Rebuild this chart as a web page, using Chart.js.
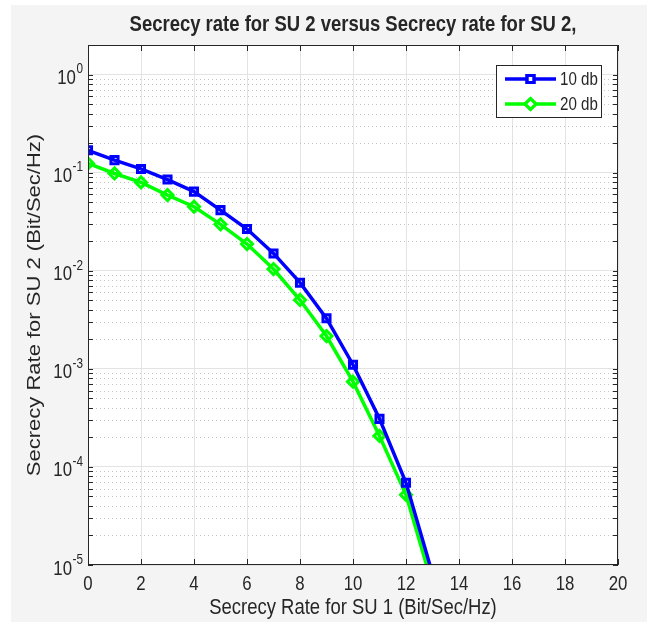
<!DOCTYPE html>
<html>
<head>
<meta charset="utf-8">
<script src="https://cdn.jsdelivr.net/npm/chart.js@4"></script>
<style>
  body { margin: 0; background: #fff; }
  #fig { position: absolute; left: 11px; top: 5px; width: 636px; height: 617px; background: #f4f4f4; }
</style>
</head>
<body>
<div id="fig"><canvas id="chart" width="636" height="617"></canvas></div>
<script>
// secrecy rate of SU 1 (x) and SU 2 (y) for two SNR settings
const rateSU1 = [0, 1, 2, 3, 4, 5, 6, 7, 8, 9, 10, 11, 12, 13];
const su2At10db = [0.169, 0.134, 0.109, 0.085, 0.064, 0.0415, 0.0266, 0.0150, 0.00755, 0.00327, 0.00110, 3.09e-4, 6.9e-5, 8.1e-6];
const su2At20db = [0.124, 0.098, 0.0795, 0.059, 0.0449, 0.0297, 0.0187, 0.0104, 0.00503, 0.00216, 7.4e-4, 2.07e-4, 5.2e-5, 6.2e-6];
const seriesNames = ["10 db", "20 db"];
const xTicks = [0, 2, 4, 6, 8, 10, 12, 14, 16, 18, 20];
const yDecades = [1e-5, 1e-4, 1e-3, 1e-2, 1e-1, 1];

const ink = "#262626";
const squeeze = 0.84;
const sans = '"Liberation Sans", Arial, sans-serif';

function text(ctx, str, x, y, font, align, baseline, rotate) {
  ctx.save();
  ctx.font = font;
  ctx.fillStyle = ink;
  ctx.textAlign = align;
  ctx.textBaseline = baseline;
  ctx.translate(x, y);
  if (rotate) {
    ctx.rotate(-Math.PI / 2);
    ctx.scale(1, squeeze);
  } else {
    ctx.scale(squeeze, 1);
  }
  ctx.fillText(str, 0, 0);
  ctx.restore();
}

const axesBox = {
  id: "axesBox",
  beforeDraw(chart) {
    const { ctx, chartArea: a } = chart;
    ctx.save();
    ctx.fillStyle = "#fff";
    ctx.fillRect(a.left, a.top, a.right - a.left, a.bottom - a.top);
    ctx.restore();
  },
  beforeDatasetsDraw(chart) {
    const { ctx, chartArea: a, scales } = chart;
    const y = scales.y;
    ctx.save();
    ctx.strokeStyle = "#c4c4c4";
    ctx.lineWidth = 1;
    ctx.setLineDash([1, 3]);
    for (const d of yDecades) {
      for (let k = 2; k <= 9; k++) {
        const v = d * k;
        if (v > y.max) continue;
        const py = Math.round(y.getPixelForValue(v)) + 0.5;
        ctx.beginPath();
        ctx.moveTo(a.left, py);
        ctx.lineTo(a.right, py);
        ctx.stroke();
      }
    }
    ctx.restore();
  },
  afterDatasetsDraw(chart) {
    const { ctx, chartArea: a, scales } = chart;
    const x = scales.x, y = scales.y;
    ctx.save();
    ctx.strokeStyle = ink;
    ctx.lineWidth = 1;
    ctx.strokeRect(a.left + 0.5, a.top + 0.5, a.right - a.left - 1, a.bottom - a.top - 1);

    // inward tick marks
    ctx.beginPath();
    for (const t of xTicks) {
      const px = Math.round(x.getPixelForValue(t)) + 0.5;
      ctx.moveTo(px, a.bottom);
      ctx.lineTo(px, a.bottom - 6);
      ctx.moveTo(px, a.top);
      ctx.lineTo(px, a.top + 6);
    }
    for (const d of yDecades) {
      for (let k = 1; k <= 9; k++) {
        const v = d * k;
        if (v > y.max) continue;
        const py = Math.round(y.getPixelForValue(v)) + 0.5;
        ctx.moveTo(a.left, py);
        ctx.lineTo(a.left + 5, py);
        ctx.moveTo(a.right, py);
        ctx.lineTo(a.right - 5, py);
      }
    }
    ctx.stroke();
    ctx.restore();

    // tick labels
    const tickFont = "20px " + sans;
    const expFont = "14px " + sans;
    for (const t of xTicks) {
      text(ctx, String(t), x.getPixelForValue(t), a.bottom + 19, tickFont, "center", "middle");
    }
    for (const d of yDecades) {
      const py = y.getPixelForValue(d);
      const exp = String(Math.round(Math.log10(d)));
      ctx.save();
      ctx.font = expFont;
      const wExp = ctx.measureText(exp).width * squeeze;
      ctx.restore();
      const right = a.left - 5;
      text(ctx, exp, right - wExp, py - 5, expFont, "left", "middle");
      text(ctx, "10", right - wExp - 0.5, py + 4, tickFont, "right", "middle");
    }

    // titles
    const midX = (a.left + a.right) / 2;
    text(ctx, "Secrecy rate for SU 2 versus Secrecy rate for SU 2,", midX, 20, "bold 22px " + sans, "center", "middle");
    text(ctx, "Secrecy Rate for SU 1 (Bit/Sec/Hz)", midX, 603, "22px " + sans, "center", "middle");
    text(ctx, "Secrecy Rate for SU 2 (Bit/Sec/Hz)", 24, (a.top + a.bottom) / 2, "22px " + sans, "center", "middle", true);

    // legend
    const box = { left: 485, top: 60, right: 591, bottom: 113 };
    ctx.save();
    ctx.fillStyle = "#fff";
    ctx.fillRect(box.left, box.top, box.right - box.left, box.bottom - box.top);
    ctx.strokeStyle = ink;
    ctx.lineWidth = 1;
    ctx.strokeRect(box.left + 0.5, box.top + 0.5, box.right - box.left - 1, box.bottom - box.top - 1);
    chart.data.datasets.forEach((ds, i) => {
      const ly = box.top + 14 + i * 25;
      ctx.strokeStyle = ds.borderColor;
      ctx.lineWidth = ds.borderWidth;
      ctx.beginPath();
      ctx.moveTo(box.left + 9, ly);
      ctx.lineTo(box.left + 60, ly);
      ctx.stroke();
      ctx.lineWidth = ds.pointBorderWidth;
      Chart.helpers.drawPoint(ctx, {
        pointStyle: ds.pointStyle,
        radius: ds.pointRadius,
        borderWidth: ds.pointBorderWidth,
        rotation: 0
      }, box.left + 34.5, ly);
      ctx.stroke();
      text(ctx, ds.label, box.left + 64, ly + 1, "18px " + sans, "left", "middle");
    });
    ctx.restore();
  }
};

const ctx = document.getElementById("chart").getContext("2d");
const chart = new Chart(ctx, {
  type: "line",
  data: {
    datasets: [
      {
        label: seriesNames[0],
        data: rateSU1.map((r, i) => ({ x: r, y: su2At10db[i] })),
        borderColor: "#0000ff",
        borderWidth: 3.5,
        pointStyle: "rect",
        pointRadius: 5,
        pointBorderWidth: 3,
        pointBorderColor: "#0000ff",
        pointBackgroundColor: "transparent",
        tension: 0
      },
      {
        label: seriesNames[1],
        data: rateSU1.map((r, i) => ({ x: r, y: su2At20db[i] })),
        borderColor: "#00ff00",
        borderWidth: 3.5,
        pointStyle: "rectRot",
        pointRadius: 5.5,
        pointBorderWidth: 3,
        pointBorderColor: "#00ff00",
        pointBackgroundColor: "transparent",
        tension: 0
      }
    ]
  },
  options: {
    responsive: false,
    animation: false,
    layout: { padding: { left: 77, top: 40, right: 29, bottom: 57 } },
    plugins: {
      legend: { display: false },
      tooltip: { enabled: false }
    },
    scales: {
      x: {
        type: "linear",
        min: 0,
        max: 20,
        ticks: { display: false, stepSize: 2 },
        grid: { color: "#e3e3e3", drawTicks: false },
        border: { display: false }
      },
      y: {
        type: "logarithmic",
        min: 1e-5,
        max: 2,
        ticks: { display: false },
        grid: {
          drawTicks: false,
          color: c => {
            const v = c.tick ? c.tick.value : 0;
            const l = Math.log10(v);
            return Math.abs(l - Math.round(l)) < 1e-9 ? "#e3e3e3" : "transparent";
          }
        },
        border: { display: false }
      }
    }
  },
  plugins: [axesBox]
});
</script>
</body>
</html>
